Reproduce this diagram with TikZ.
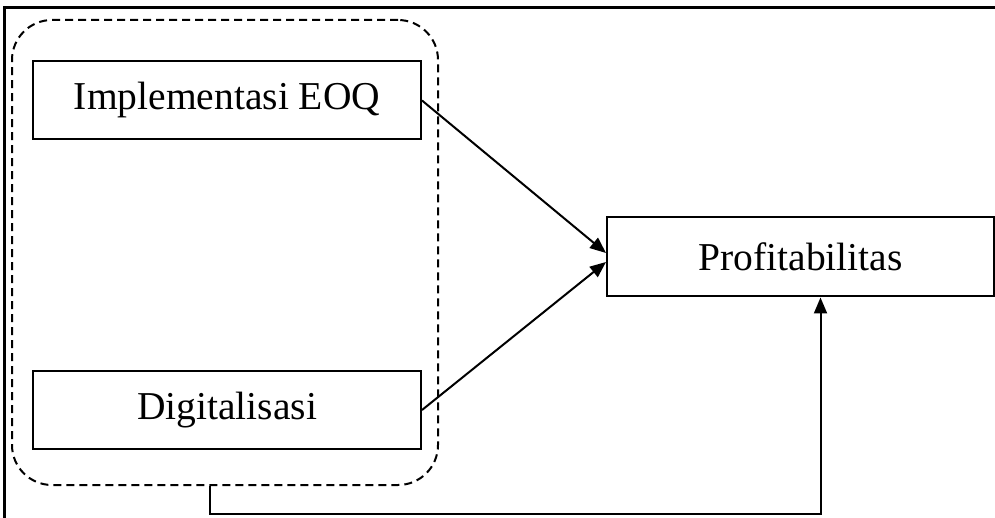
\documentclass[tikz,border=0pt]{standalone}
\usepackage{fontspec}
\setmainfont{Liberation Serif}
\usetikzlibrary{arrows.meta}

\begin{document}
\begin{tikzpicture}[
  x=1pt, y=-1pt,
  varbox/.style={draw, line width=2pt, inner sep=0pt, minimum width=388pt, minimum height=78pt, font=\fontsize{39.5}{47}\selectfont},
  group/.style={draw, line width=2pt, dash pattern=on 8pt off 5pt, rounded corners=40pt, minimum width=426pt, minimum height=465pt},
  link/.style={line width=2pt, -{Triangle[length=16pt,width=13pt]}}
]
  \useasboundingbox (0,0) rectangle (995,518);
  \draw[line width=3pt] (995,8) -| (4,518);
  \node[group] (grp) at (225,252.5) {};
  \node[varbox] (eoq) at (227,100.5) {Implementasi EOQ};
  \node[varbox] (digital) at (227,410) {Digitalisasi};
  \node[varbox, minimum width=387pt, minimum height=79pt] (profit) at (800.5,257) {Profitabilitas};
  \draw[link] (eoq.east) -- ([yshift=4pt]profit.west);
  \draw[link] (digital.east) -- ([yshift=-5pt]profit.west);
  \draw[link] ([xshift=-15pt]grp.south) -- ++(0,28) -| ([xshift=20pt]profit.south);
\end{tikzpicture}
\end{document}
